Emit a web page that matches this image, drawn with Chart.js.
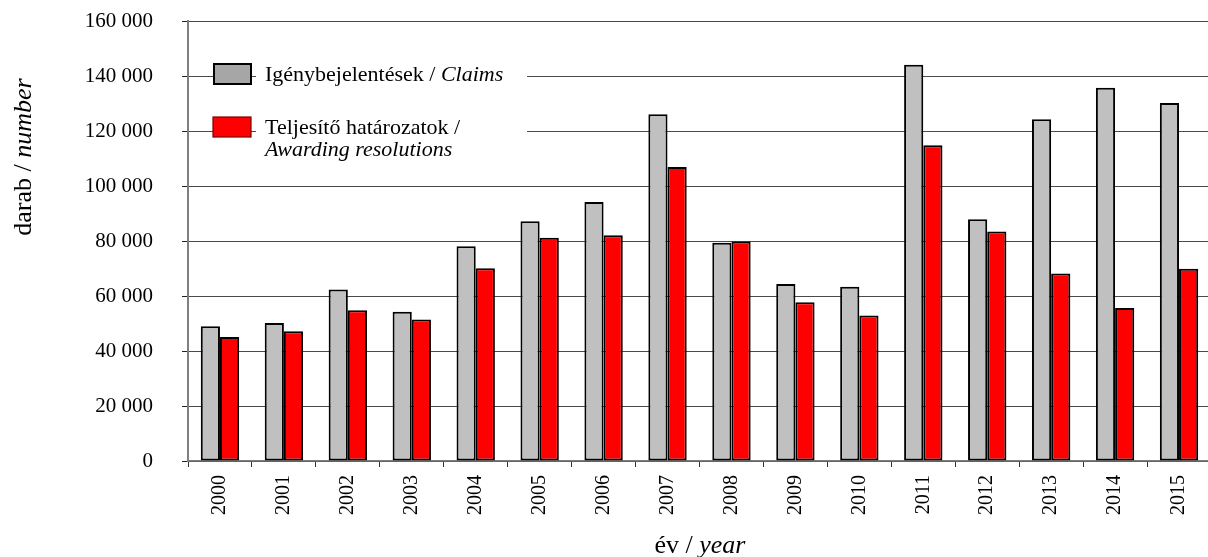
<!DOCTYPE html>
<html>
<head>
<meta charset="utf-8">
<script src="https://cdn.jsdelivr.net/npm/chart.js@4/dist/chart.umd.min.js"></script>
<style>
  html, body { margin: 0; padding: 0; background: #fff; overflow: hidden; }
  #wrap { position: relative; width: 1212px; height: 557px; }
</style>
</head>
<body>
<div id="wrap"><canvas id="chart"></canvas></div>
<script>
// --- Data ---
const years = ['2000', '2001', '2002', '2003', '2004', '2005', '2006', '2007',
               '2008', '2009', '2010', '2011', '2012', '2013', '2014', '2015'];
const claims = [49000, 50200, 62400, 54300, 78100, 87200, 94200, 126100,
                79400, 64400, 63400, 144100, 87900, 124300, 135700, 130200];
const awards = [45100, 47200, 54800, 51500, 70100, 81200, 82100, 106900,
                79800, 57700, 52900, 114800, 83500, 68200, 55600, 69900];
const yTicks = [0, 20000, 40000, 60000, 80000, 100000, 120000, 140000, 160000];

const FONT = '"Liberation Serif", "Times New Roman", serif';

function fmt(v) {
  return String(v).replace(/\B(?=(\d{3})+(?!\d))/g, ' ');
}

// draws "regular" + "italic" text pieces one after another
function drawMixed(ctx, parts, x, y, size) {
  let cx = x;
  parts.forEach(p => {
    ctx.font = (p.italic ? 'italic ' : '') + size + 'px ' + FONT;
    ctx.fillText(p.text, cx, y);
    cx += ctx.measureText(p.text).width;
  });
  return cx - x;
}

function mixedWidth(ctx, parts, size) {
  let w = 0;
  parts.forEach(p => {
    ctx.font = (p.italic ? 'italic ' : '') + size + 'px ' + FONT;
    w += ctx.measureText(p.text).width;
  });
  return w;
}

// legend + axis titles drawn on top
const annotations = {
  id: 'annotations',
  afterDraw(chart) {
    const ctx = chart.ctx;
    ctx.save();
    ctx.textBaseline = 'alphabetic';
    ctx.textAlign = 'left';

    // legend box (hides gridlines behind text)
    ctx.fillStyle = '#fff';
    ctx.fillRect(256, 48, 271, 124);

    // swatch 1
    ctx.fillStyle = '#a6a6a6';
    ctx.fillRect(214, 64, 37, 20);
    ctx.strokeStyle = '#000';
    ctx.lineWidth = 2;
    ctx.strokeRect(214, 64, 37, 20);
    // swatch 2
    ctx.fillStyle = '#ff0000';
    ctx.fillRect(213, 117, 38, 20);
    ctx.strokeStyle = '#7a0000';
    ctx.lineWidth = 1.2;
    ctx.strokeRect(213, 117, 38, 20);

    ctx.fillStyle = '#000';
    drawMixed(ctx, [{ text: 'Igénybejelentések / ' }, { text: 'Claims', italic: true }], 265, 81, 22);
    drawMixed(ctx, [{ text: 'Teljesítő határozatok /' }], 265, 134, 22);
    drawMixed(ctx, [{ text: 'Awarding resolutions', italic: true }], 265, 156, 22);

    // x title
    const xParts = [{ text: 'év / ' }, { text: 'year', italic: true }];
    const xw = mixedWidth(ctx, xParts, 26);
    drawMixed(ctx, xParts, 700 - xw / 2, 553, 26);

    // y title
    const yParts = [{ text: 'darab / ' }, { text: 'number', italic: true }];
    const yw = mixedWidth(ctx, yParts, 26);
    ctx.translate(31, 157);
    ctx.rotate(-Math.PI / 2);
    drawMixed(ctx, yParts, -yw / 2, 0, 26);
    ctx.restore();
  }
};

const ctx = document.getElementById('chart').getContext('2d');
new Chart(ctx, {
  type: 'bar',
  data: {
    labels: years,
    datasets: [
      {
        label: 'Igénybejelentések / Claims',
        data: claims,
        backgroundColor: '#c0c0c0',
        borderColor: '#000',
        borderWidth: 2,
        borderSkipped: false,
        categoryPercentage: 0.6,
        barPercentage: 1.0
      },
      {
        label: 'Teljesítő határozatok / Awarding resolutions',
        data: awards,
        backgroundColor: '#ff0000',
        borderColor: '#000',
        borderWidth: 2,
        borderSkipped: false,
        categoryPercentage: 0.6,
        barPercentage: 1.0
      }
    ]
  },
  options: {
    responsive: true,
    maintainAspectRatio: false,
    animation: false,
    layout: { padding: { top: 21, right: 1, bottom: 34, left: 0 } },
    plugins: {
      legend: { display: false },
      tooltip: { enabled: false }
    },
    scales: {
      x: {
        offset: true,
        grid: {
          display: true,
          offset: true,
          drawOnChartArea: false,
          tickLength: 6,
          tickColor: '#333'
        },
        border: { display: true, color: '#7f7f7f', width: 1.5 },
        ticks: {
          color: '#000',
          font: { family: FONT, size: 20 },
          maxRotation: 90,
          minRotation: 90,
          padding: 8,
          autoSkip: false
        }
      },
      y: {
        min: 0,
        max: 160000,
        afterFit(scale) {
          scale.width = 188;
          // big tick padding would otherwise push the plot down
          scale.paddingTop = 12;
          scale.paddingBottom = 12;
        },
        afterBuildTicks(scale) { scale.ticks = yTicks.map(v => ({ value: v })); },
        grid: {
          color: '#4a4a4a',
          lineWidth: 1,
          tickLength: 6,
          tickColor: '#222'
        },
        border: { display: true, color: '#7f7f7f', width: 2 },
        ticks: {
          color: '#000',
          font: { family: FONT, size: 21 },
          padding: 29,
          callback: v => fmt(v)
        }
      }
    }
  },
  plugins: [annotations]
});
</script>
</body>
</html>
